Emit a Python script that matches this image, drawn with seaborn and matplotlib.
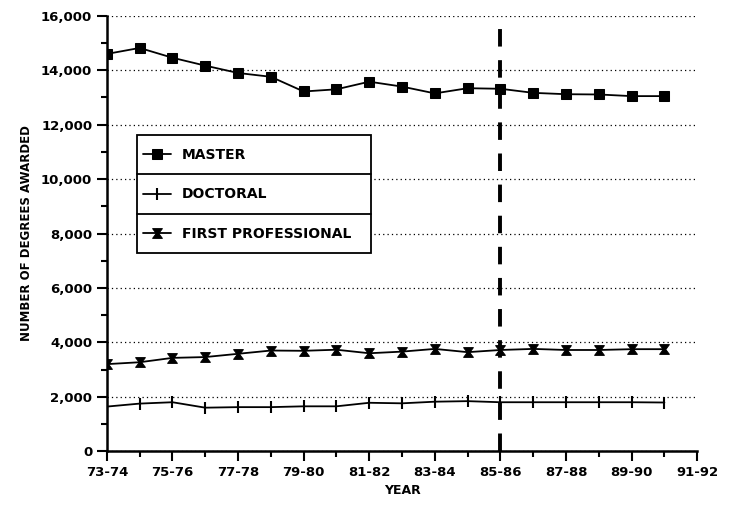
import numpy as np
import pandas as pd
import seaborn as sns
import matplotlib.pyplot as plt
from matplotlib.path import Path
from matplotlib.patches import Rectangle

years = ["73-74", "74-75", "75-76", "76-77", "77-78", "78-79", "79-80", "80-81", "81-82", "82-83",
         "83-84", "84-85", "85-86", "86-87", "87-88", "88-89", "89-90", "90-91", "91-92"]
master = [14600, 14820, 14460, 14170, 13900, 13760, 13220, 13300, 13580, 13400,
          13150, 13340, 13320, 13170, 13120, 13110, 13050, 13050]
doctoral = [1640, 1750, 1800, 1600, 1620, 1620, 1650, 1650, 1780, 1760,
            1820, 1840, 1800, 1800, 1800, 1800, 1800, 1790]
first_prof = [3200, 3270, 3430, 3460, 3580, 3700, 3690, 3730, 3600, 3660,
              3760, 3640, 3720, 3760, 3720, 3720, 3750, 3750]
cutoff = "85-86"

sns.set_style("ticks")
plt.rcParams["font.family"] = ["Liberation Sans Narrow", "DejaVu Sans"]
plt.rcParams["font.weight"] = "bold"
for k in ["text.color", "axes.labelcolor", "xtick.color", "ytick.color"]:
    plt.rcParams[k] = "black"

# hourglass marker for first professional
hg = Path([(-1, 1), (1, 1), (0.25, 0), (1, -1), (-1, -1), (-0.25, 0), (-1, 1)],
          [Path.MOVETO] + [Path.LINETO] * 5 + [Path.CLOSEPOLY])

fig = plt.figure(figsize=(7.37, 5.11), dpi=100)
ax = fig.add_axes([0.145, 0.117, 0.801, 0.852])

x = np.arange(len(master))
sns.lineplot(x=x, y=master, ax=ax, color="black", lw=1.3, marker="s", markersize=6.5,
             markeredgecolor="black", label="MASTER")
sns.lineplot(x=x, y=doctoral, ax=ax, color="black", lw=1.3, marker="|", markersize=9,
             markeredgewidth=1.5, markeredgecolor="black", label="DOCTORAL")
sns.lineplot(x=x, y=first_prof, ax=ax, color="black", lw=1.3, marker=hg, markersize=7,
             markeredgecolor="black", label="FIRST PROFESSIONAL")

ax.axvline(years.index(cutoff), color="black", lw=2.8, dashes=(4.5, 3.5), zorder=1)

ax.set_xlim(0, len(years) - 1)
ax.set_ylim(0, 16000)
ax.set_xticks(np.arange(0, len(years), 2))
ax.set_xticklabels(years[::2])
ax.set_xticks(np.arange(1, len(years), 2), minor=True)
ax.set_yticks(np.arange(0, 16001, 2000))
ax.set_yticklabels([f"{v:,}" for v in range(0, 16001, 2000)])
ax.set_yticks(np.arange(1000, 16000, 2000), minor=True)
ax.tick_params(axis="both", which="major", length=7, width=1.5, labelsize=9.5, color="black")
ax.tick_params(axis="both", which="minor", length=4, width=1.5, color="black")
for t in ax.get_xticklabels() + ax.get_yticklabels():
    t.set_fontweight("bold")
ax.yaxis.grid(True, which="major", linestyle=(0, (1, 2.5)), color="black", lw=0.9)
ax.set_axisbelow(True)
for s in ["top", "right"]:
    ax.spines[s].set_visible(False)
for s in ["left", "bottom"]:
    ax.spines[s].set_linewidth(1.8)
    ax.spines[s].set_color("black")

ax.set_xlabel("YEAR", fontsize=9, fontweight="bold", labelpad=4)
ax.set_ylabel("NUMBER OF DEGREES AWARDED", fontsize=8.5, fontweight="bold", labelpad=6)

# legend: entries from matplotlib, box and row separators drawn around them
bx, by, bw, bh = 0.051, 0.455, 0.396, 0.271
leg = ax.legend(loc="center left", bbox_to_anchor=(bx, by, bw, bh),
                frameon=False, labelspacing=1.85, handlelength=2.0, borderpad=0,
                borderaxespad=0, handletextpad=0.8, prop={"weight": "bold", "size": 10})
leg.set_zorder(11)
ax.add_patch(Rectangle((bx, by), bw, bh, transform=ax.transAxes, facecolor="white",
                       edgecolor="black", lw=1.3, zorder=9, clip_on=False))
for k in (1, 2):
    yy = by + bh * k / 3
    ax.plot([bx, bx + bw], [yy, yy], transform=ax.transAxes, color="black", lw=1.3,
            zorder=10, clip_on=False)

# nudge the legend so each entry sits in its own row
fig.canvas.draw()
inv = ax.transAxes.inverted()
centers = [inv.transform(((t.get_window_extent().x0 + t.get_window_extent().x1) / 2,
                          (t.get_window_extent().y0 + t.get_window_extent().y1) / 2))[1]
           for t in leg.get_texts()]
pitch = bh / 3
shift = (by + bh - pitch / 2) - centers[0]
leg.set_bbox_to_anchor((bx + 0.01, by + shift, bw, bh), transform=ax.transAxes)

fig.savefig("out.png", dpi=100)
